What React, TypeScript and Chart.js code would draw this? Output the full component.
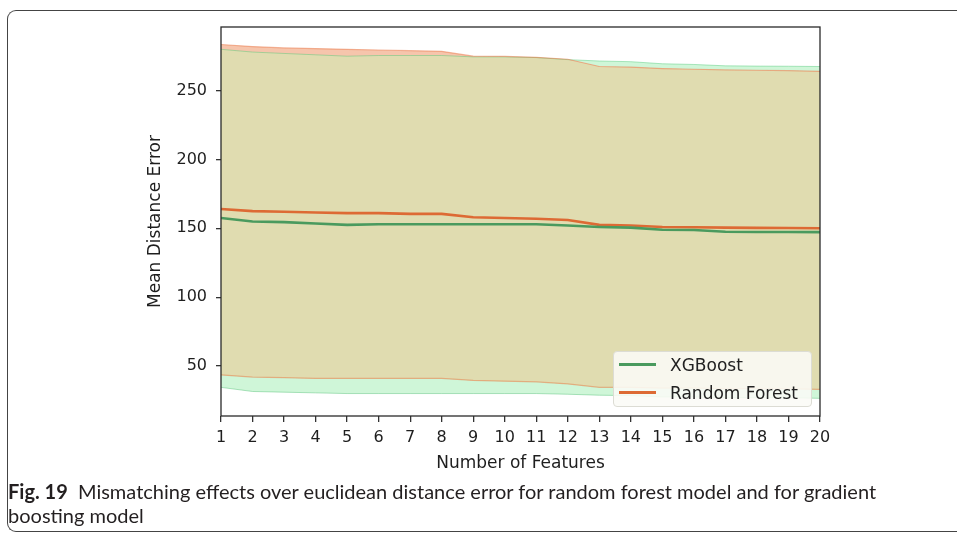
import React, { useEffect, useRef } from "react";
import { Chart, registerables } from "chart.js";

Chart.register(...registerables);

const FEATURES = [1, 2, 3, 4, 5, 6, 7, 8, 9, 10, 11, 12, 13, 14, 15, 16, 17, 18, 19, 20];

const XGB_MEAN = [157.5, 155, 154.5, 153.5, 152.5, 153, 153, 153, 153, 153, 153, 152, 151, 150.5, 149, 148.8, 147.5, 147.3, 147.3, 147.2];
const XGB_UPPER = [280, 278, 277, 276, 275, 275.5, 275.5, 275.5, 274.5, 274.5, 274, 272.5, 271.5, 271, 269.5, 269, 268, 267.8, 267.7, 267.5];
const XGB_LOWER = [34.5, 31.5, 31, 30.5, 30, 30, 30, 30, 30, 30, 30, 29.5, 28.8, 28.5, 27.5, 27.5, 27, 27, 27, 26.5];

const RF_MEAN = [164, 162.5, 162, 161.5, 161, 161, 160.5, 160.5, 158, 157.5, 157, 156, 152.5, 152, 151, 150.8, 150.5, 150.3, 150.2, 150];
const RF_UPPER = [283.5, 282, 281, 280.5, 280, 279.5, 279, 278.5, 275, 274.8, 274.2, 272.8, 267.5, 267, 266, 265.5, 265, 264.8, 264.5, 264];
const RF_LOWER = [43.5, 42, 41.5, 41, 41, 41, 41, 41, 39.5, 39, 38.5, 37, 34.5, 34.5, 34, 34, 33.5, 33.5, 33.5, 33];

const SERIES_NAMES = ["XGBoost", "Random Forest"];
const SERIES_COLORS = ["#4a9a5e", "#dd6a34"];
const Y_TICKS = [50, 100, 150, 200, 250];
const Y_MIN = 13.7;
const Y_MAX = 296.2;
const X_TITLE = "Number of Features";
const Y_TITLE = "Mean Distance Error";
const CAPTION_BOLD = "Fig. 19";
const CAPTION_LINE1 = "Mismatching effects over euclidean distance error for random forest model and for gradient";
const CAPTION_LINE2 = "boosting model";

const pts = (arr: number[]) => FEATURES.map((x, i) => ({ x, y: arr[i] }));

const FONT = "'DejaVu Sans', sans-serif";

const framePlugin = {
  id: "frameBox",
  afterDraw(chart: any) {
    const { ctx, chartArea } = chart;
    ctx.save();
    ctx.strokeStyle = "#2a2a2a";
    ctx.lineWidth = 1.3;
    ctx.strokeRect(chartArea.left, chartArea.top, chartArea.right - chartArea.left, chartArea.bottom - chartArea.top);
    ctx.restore();
  },
};

export default function App() {
  const ref = useRef<HTMLCanvasElement>(null);

  useEffect(() => {
    if (!ref.current) return;
    const ovUpper = FEATURES.map((_, i) => Math.min(XGB_UPPER[i], RF_UPPER[i]));
    const ovLower = FEATURES.map((_, i) => Math.max(XGB_LOWER[i], RF_LOWER[i]));
    const base = { pointRadius: 0, tension: 0 };
    const chart = new Chart(ref.current, {
      type: "line",
      data: {
        datasets: [
          { ...base, label: SERIES_NAMES[0], data: pts(XGB_MEAN), borderColor: SERIES_COLORS[0], borderWidth: 2.6, fill: false, order: 1 },
          { ...base, label: SERIES_NAMES[1], data: pts(RF_MEAN), borderColor: SERIES_COLORS[1], borderWidth: 2.6, fill: false, order: 2 },
          { ...base, label: "xgb_up", data: pts(XGB_UPPER), borderColor: "rgba(80,200,120,0.45)", borderWidth: 1, fill: false, order: 6 },
          { ...base, label: "xgb_lo", data: pts(XGB_LOWER), borderColor: "rgba(80,190,115,0.45)", borderWidth: 1, fill: 2, backgroundColor: "#cff6d8", order: 6 },
          { ...base, label: "rf_up", data: pts(RF_UPPER), borderColor: "rgba(235,125,80,0.55)", borderWidth: 1.2, fill: false, order: 5 },
          { ...base, label: "rf_lo", data: pts(RF_LOWER), borderColor: "rgba(225,135,80,0.55)", borderWidth: 1.2, fill: 4, backgroundColor: "#f6c5ac", order: 5 },
          { ...base, label: "ov_up", data: pts(ovUpper), borderWidth: 0, borderColor: "rgba(0,0,0,0)", fill: false, order: 4 },
          { ...base, label: "ov_lo", data: pts(ovLower), borderWidth: 0, borderColor: "rgba(0,0,0,0)", fill: 6, backgroundColor: "#e0dcb0", order: 4 },
        ],
      },
      options: {
        animation: false,
        responsive: false,
        devicePixelRatio: 1,
        events: [],
        layout: { padding: { left: 141, right: 137, top: 27, bottom: 2 } },
        plugins: {
          legend: { display: false },
          tooltip: { enabled: false },
          filler: { drawTime: "beforeDatasetsDraw" },
        },
        scales: {
          x: {
            type: "linear",
            min: 1,
            max: 20,
            afterFit(scale: any) { scale.height = 62; },
            ticks: { stepSize: 1, autoSkip: false, maxRotation: 0, padding: 6, color: "#1e1e1e", font: { family: FONT, size: 16 } },
            grid: { display: true, drawOnChartArea: false, drawTicks: true, tickLength: 6, color: "#333", lineWidth: 1.3 },
            border: { display: false },
            title: { display: true, text: X_TITLE, color: "#1e1e1e", font: { family: FONT, size: 17 } },
          },
          y: {
            type: "linear",
            min: Y_MIN,
            max: Y_MAX,
            afterFit(scale: any) { scale.width = 80; },
            afterBuildTicks(scale: any) { scale.ticks = Y_TICKS.map((v) => ({ value: v })); },
            ticks: { padding: 9, color: "#1e1e1e", font: { family: FONT, size: 16 } },
            grid: { display: true, drawOnChartArea: false, drawTicks: true, tickLength: 5, color: "#333", lineWidth: 1.3 },
            border: { display: false },
            title: { display: true, text: Y_TITLE, color: "#1e1e1e", font: { family: FONT, size: 17 } },
          },
        },
      },
      plugins: [framePlugin],
    } as any);
    return () => chart.destroy();
  }, []);

  return (
    <div style={{ position: "absolute", left: 0, top: 0, width: 957, height: 536, background: "#fff", overflow: "hidden" }}>
      <div
        style={{
          position: "absolute",
          left: 7,
          top: 10,
          width: 980,
          height: 522,
          borderTop: "1.5px solid #444",
          borderLeft: "1.3px solid #444",
          borderBottom: "1.3px solid #444",
          borderRadius: "9px 0 0 9px",
          boxSizing: "border-box",
        }}
      />
      <canvas ref={ref} width={957} height={480} style={{ position: "absolute", left: 0, top: 0, width: 957, height: 480 }} />
      <div
        style={{
          position: "absolute",
          left: 613,
          top: 351,
          width: 199,
          height: 56,
          boxSizing: "border-box",
          background: "rgba(250,250,246,0.88)",
          border: "1px solid #dcdcd4",
          borderRadius: 4,
          fontFamily: FONT,
          fontSize: 17,
          color: "#222",
        }}
      >
        {SERIES_NAMES.map((name, i) => (
          <div key={name} style={{ position: "absolute", left: 0, top: i === 0 ? 0 : 28, height: 28, width: "100%" }}>
            <div style={{ position: "absolute", left: 5, top: 11, width: 37, height: 2.6, background: SERIES_COLORS[i] }} />
            <div style={{ position: "absolute", left: 56, top: 2, lineHeight: "22px", whiteSpace: "nowrap" }}>{name}</div>
          </div>
        ))}
      </div>
      <div
        style={{
          position: "absolute",
          left: 8,
          top: 479,
          fontFamily: "Lato, sans-serif",
          fontSize: 20,
          lineHeight: "24px",
          color: "#231f20",
          whiteSpace: "nowrap",
        }}
      >
        <span style={{ fontWeight: 700 }}>{CAPTION_BOLD}</span>
        <span>{"\u00a0\u00a0" + CAPTION_LINE1}</span>
        <br />
        <span>{CAPTION_LINE2}</span>
      </div>
    </div>
  );
}
